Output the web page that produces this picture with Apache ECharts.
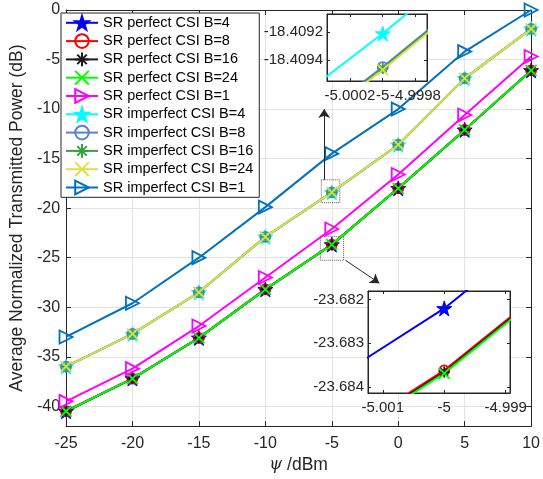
<!DOCTYPE html>
<html>
<head>
<meta charset="utf-8">
<script src="https://cdn.jsdelivr.net/npm/echarts@6/dist/echarts.min.js"></script>
<style>
  html, body { margin: 0; padding: 0; background: #fff; }
  #chart { width: 543px; height: 479px; }
</style>
</head>
<body>
<div id="chart"></div>
<script>
// transmit power psi (dBm)
var psi = [-25, -20, -15, -10, -5, 0, 5, 10];

// perfect CSI
var perfectB4  = [-40.5, -37.2, -33.1, -28.2, -23.6822,  -18.0, -12.1, -6.1];
var perfectB8  = [-40.5, -37.2, -33.1, -28.2, -23.68362, -18.0, -12.1, -6.1];
var perfectB16 = [-40.5, -37.2, -33.1, -28.2, -23.68366, -18.0, -12.1, -6.1];
var perfectB24 = [-40.5, -37.2, -33.1, -28.2, -23.68369, -18.0, -12.1, -6.1];
var perfectB1  = [-39.5, -36.2, -31.9, -27.0, -22.1, -16.6, -10.6, -4.7];

// imperfect CSI
var imperfectB4  = [-36.0, -32.7, -28.5, -22.9, -18.40921, -13.6, -6.9, -1.9];
var imperfectB8  = [-36.0, -32.7, -28.5, -22.9, -18.40945, -13.6, -6.9, -1.9];
var imperfectB16 = [-36.0, -32.7, -28.5, -22.9, -18.40946, -13.6, -6.9, -1.9];
var imperfectB24 = [-36.0, -32.7, -28.5, -22.9, -18.40947, -13.6, -6.9, -1.9];
var imperfectB1  = [-33.0, -29.6, -25.0, -19.9, -14.5, -10.0, -4.2, 0.0];

// axis ranges and tick steps: [min, max, step]
var mainX   = [-25, 10, 5];
var mainY   = [-42, 0, 5];
var zoom1X  = [-5.00034, -4.99973, 0.0002];
var zoom1Y  = [-18.40955, -18.40907, 0.0002];
var zoom2X  = [-5.00124, -4.99893, 0.001];
var zoom2Y  = [-23.68414, -23.6818, 0.001];

// zoom boxes and arrows on the main plot (data units)
var zoomBoxes = [
  [[-5.79, -17.14], [-4.40, -19.45]],
  [[-5.86, -22.85], [-4.11, -25.26]]
];
var arrows = [
  [[-5.57, -17.14], [-5.57, -10.0]],
  [[-3.97, -25.26], [-1.42, -27.57]]
];

var ink = '#262626';
var font = 'Liberation Sans, Arial, sans-serif';

var STAR = 'path://M50,0 L61.2,34.5 L97.6,34.5 L68.2,55.9 L79.4,90.5 L50,69.1 L20.6,90.5 L31.8,55.9 L2.4,34.5 L38.8,34.5 Z';
var ASTER = 'path://M50,0 L50,100 M0,50 L100,50 M15,15 L85,85 M85,15 L15,85';
var CROSS = 'path://M0,0 L100,100 M100,0 L0,100';
var TRI = 'path://M0,0 L100,50 L0,100 Z';

var lines = [
  { name: 'SR perfect CSI B=4',    data: perfectB4,    color: '#0000ff', symbol: STAR,     fill: true,  size: 15 },
  { name: 'SR perfect CSI B=8',    data: perfectB8,    color: '#ff0000', symbol: 'circle', fill: false, size: 10 },
  { name: 'SR perfect CSI B=16',   data: perfectB16,   color: '#1a1a1a', symbol: ASTER,    fill: false, size: 11 },
  { name: 'SR perfect CSI B=24',   data: perfectB24,   color: '#00ff00', symbol: CROSS,    fill: false, size: 11 },
  { name: 'SR perfect CSI B=1',    data: perfectB1,    color: '#ff00ff', symbol: TRI,      fill: false, size: 13 },
  { name: 'SR imperfect CSI B=4',  data: imperfectB4,  color: '#00ffff', symbol: STAR,     fill: true,  size: 15 },
  { name: 'SR imperfect CSI B=8',  data: imperfectB8,  color: '#5b7fd4', symbol: 'circle', fill: false, size: 10 },
  { name: 'SR imperfect CSI B=16', data: imperfectB16, color: '#36a33a', symbol: ASTER,    fill: false, size: 11 },
  { name: 'SR imperfect CSI B=24', data: imperfectB24, color: '#dede4a', symbol: CROSS,    fill: false, size: 11 },
  { name: 'SR imperfect CSI B=1',  data: imperfectB1,  color: '#0072bd', symbol: TRI,      fill: false, size: 13 }
];

function makeAxis(o) {
  return {
    type: 'value',
    gridIndex: o.grid,
    position: o.pos,
    min: o.range[0],
    max: o.range[1],
    minInterval: o.range[2],
    maxInterval: o.range[2],
    z: o.z || 0,
    name: o.name || '',
    nameLocation: 'middle',
    nameGap: o.nameGap || 0,
    nameTextStyle: o.nameStyle || {},
    axisLine: { show: true, onZero: false, lineStyle: { color: ink, width: 1 } },
    axisTick: { show: true, inside: true, length: o.tickLen, lineStyle: { color: ink, width: 1 } },
    axisLabel: {
      show: !!o.labels, color: ink, fontFamily: font, fontSize: o.fontSize || 15,
      margin: o.margin || 6, showMinLabel: !!o.showMin, showMaxLabel: !!o.showMax
    },
    splitLine: { show: !!o.split, lineStyle: { color: '#e3e3e3', width: 1 } }
  };
}

var xAxes = [
  makeAxis({ grid: 0, pos: 'bottom', range: mainX, tickLen: 5, labels: true, fontSize: 16, margin: 9,
             showMin: true, showMax: true, split: true,
             name: '{i|ψ} /dBm', nameGap: 27,
             nameStyle: { color: ink, fontFamily: font, fontSize: 17.5,
                          rich: { i: { fontFamily: 'DejaVu Serif', fontStyle: 'italic', fontSize: 16.5, color: ink } } } }),
  makeAxis({ grid: 0, pos: 'top', range: mainX, tickLen: 5 }),
  makeAxis({ grid: 1, pos: 'bottom', range: zoom1X, tickLen: 3, labels: true, fontSize: 15, margin: 7, z: 4 }),
  makeAxis({ grid: 1, pos: 'top', range: zoom1X, tickLen: 3, z: 4 }),
  makeAxis({ grid: 2, pos: 'bottom', range: zoom2X, tickLen: 3, labels: true, fontSize: 15, margin: 7, z: 4 }),
  makeAxis({ grid: 2, pos: 'top', range: zoom2X, tickLen: 3, z: 4 })
];

var yAxes = [
  makeAxis({ grid: 0, pos: 'left', range: mainY, tickLen: 5, labels: true, fontSize: 16, margin: 6,
             showMin: false, showMax: true, split: true,
             name: 'Average Normalized Transmitted Power (dB)', nameGap: 39,
             nameStyle: { color: ink, fontFamily: font, fontSize: 17.5 } }),
  makeAxis({ grid: 0, pos: 'right', range: mainY, tickLen: 5 }),
  makeAxis({ grid: 1, pos: 'left', range: zoom1Y, tickLen: 3, labels: true, fontSize: 15, margin: 4, z: 4 }),
  makeAxis({ grid: 1, pos: 'right', range: zoom1Y, tickLen: 3, z: 4 }),
  makeAxis({ grid: 2, pos: 'left', range: zoom2Y, tickLen: 3, labels: true, fontSize: 15, margin: 4, z: 4 }),
  makeAxis({ grid: 2, pos: 'right', range: zoom2Y, tickLen: 3, z: 4 })
];

var series = [];
[0, 2, 4].forEach(function (ax, g) {
  lines.forEach(function (s) {
    series.push({
      type: 'line',
      name: s.name,
      xAxisIndex: ax,
      yAxisIndex: ax,
      data: psi.map(function (x, i) { return [x, s.data[i]]; }),
      symbol: s.symbol,
      symbolSize: s.size,
      showAllSymbol: true,
      clip: true,
      z: g === 0 ? 2 : 5,
      lineStyle: { color: s.color, width: 2 },
      itemStyle: {
        color: s.fill ? s.color : 'rgba(255,255,255,0)',
        borderColor: s.color,
        borderWidth: s.fill ? 1 : 1.8
      },
      emphasis: { disabled: true }
    });
  });
});

// zoom boxes and arrows
series.push({
  type: 'line',
  name: 'zoom marks',
  xAxisIndex: 0,
  yAxisIndex: 0,
  data: [],
  z: 3,
  markArea: {
    silent: true,
    itemStyle: { color: 'rgba(0,0,0,0)', borderColor: '#555', borderWidth: 1, borderType: 'dotted' },
    data: zoomBoxes.map(function (b) { return [{ coord: b[0] }, { coord: b[1] }]; })
  },
  markLine: {
    silent: true,
    symbol: ['none', 'arrow'],
    symbolSize: 9,
    label: { show: false },
    lineStyle: { color: ink, width: 1, type: 'solid' },
    data: arrows.map(function (a) { return [{ coord: a[0] }, { coord: a[1] }]; })
  }
});

var chart = echarts.init(document.getElementById('chart'), null, { renderer: 'canvas' });

chart.setOption({
  animation: false,
  backgroundColor: '#fff',
  grid: [
    { left: 56, right: 6, top: 10, bottom: 50, containLabel: false },
    { left: 327, top: 14, width: 100, height: 67, show: true, backgroundColor: '#fff', borderColor: ink, borderWidth: 1, z: 3 },
    { left: 368, top: 291, width: 142, height: 102, show: true, backgroundColor: '#fff', borderColor: ink, borderWidth: 1, z: 3 }
  ],
  legend: {
    data: lines.map(function (s) { return s.name; }),
    orient: 'vertical',
    left: 61,
    top: 13,
    z: 10,
    itemWidth: 32,
    itemHeight: 17,
    itemGap: 2.7,
    padding: [2, 6, 2, 4],
    backgroundColor: '#fff',
    borderColor: ink,
    borderWidth: 1,
    borderRadius: 0,
    selectedMode: false,
    textStyle: { color: '#000', fontFamily: font, fontSize: 14.5 }
  },
  xAxis: xAxes,
  yAxis: yAxes,
  series: series
});
</script>
</body>
</html>
